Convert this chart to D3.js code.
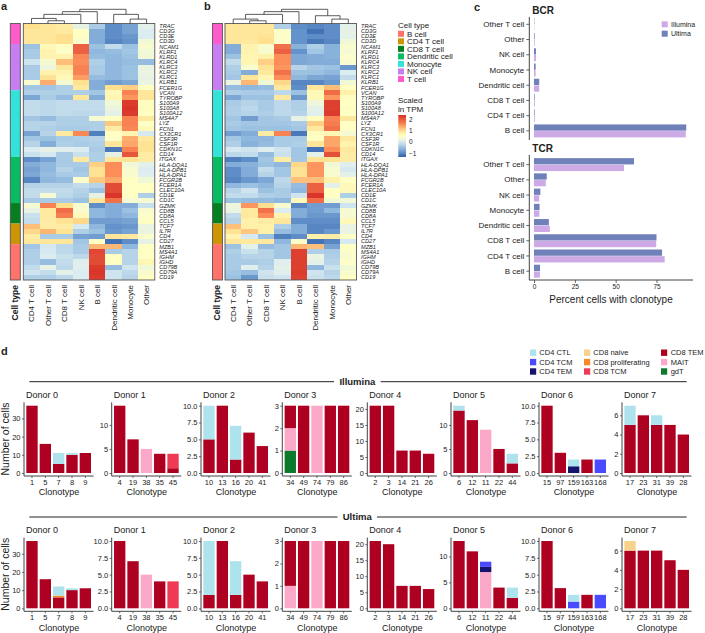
<!DOCTYPE html>
<html>
<head>
<meta charset="utf-8">
<script src="https://cdn.jsdelivr.net/npm/d3@7"></script>
<style>
  html, body { margin: 0; padding: 0; background: #fff; }
  svg text { font-family: "Liberation Sans", Arial, sans-serif; fill: #222; }
</style>
</head>
<body>
<div id="chart"></div>
<script>
// ---- heatmap data (panels a and b) ----
var genes = ["TRAC","CD3G","CD3E","CD3D","NCAM1","KLRF1","KLRD1","KLRC4","KLRC3","KLRC2","KLRC1","KLRB1","FCER1G",
  "VCAN","TYROBP","S100A9","S100A8","S100A12","MS4A7","LYZ","FCN1","CX3CR1","CSF3R","CSF1R","CDKN1C","CD14",
  "ITGAX","HLA-DQA1","HLA-DPB1","HLA-DPA1","FCGR2B","FCER1A","CLEC10A","CD1E","CD1C",
  "GZMK","CD8B","CD8A","CCL5","TCF7","IL7R","CD4","CD27","MZB1","MS4A1","IGHM","IGHD","CD79B","CD79A","CD19"];
var heatColumns = ["CD4 T cell","Other T cell","CD8 T cell","NK cell","B cell","Dendritic cell","Monocyte","Other"];
var rowGroups = ["T cell","NK cell","Monocyte","Dendritic cell","CD8 T cell","CD4 T cell","B cell"];
var rowGroupCounts = [4, 9, 13, 9, 4, 4, 7];
var legendGroups = ["B cell","CD4 T cell","CD8 T cell","Dendritic cell","Monocyte","NK cell","T cell"];

var heatA = [
[1.0,0.9,0.8,0.15,-0.4,-1.0,-0.8,0.1],
[0.9,0.9,0.85,0.5,-0.7,-1.0,-0.8,0.0],
[0.9,0.9,1.0,0.5,-0.7,-1.0,-0.9,0.0],
[0.9,0.9,1.0,0.4,-0.7,-1.05,-0.95,0.3],
[-0.5,0.6,0.5,1.9,-0.5,-0.2,-0.5,0.4],
[-0.4,0.7,0.45,1.9,-0.6,-0.55,-0.45,0.3],
[-0.4,0.7,0.7,1.55,-0.55,-0.6,-0.5,0.3],
[-0.1,0.35,1.2,1.5,-0.35,-0.6,-0.55,-0.55],
[-0.4,0.25,0.9,1.6,-0.4,-0.6,-0.5,0.2],
[-0.4,0.7,0.7,1.6,-0.4,-0.6,-0.5,0.2],
[-0.4,0.95,0.6,1.4,-0.55,-0.6,-0.5,0.15],
[0.4,1.3,0.35,1.0,-0.7,-0.85,-0.75,0.2],
[-0.45,-0.45,-0.35,0.85,-0.7,1.0,1.1,0.5],
[-0.35,-0.35,-0.35,-0.35,-0.45,0.6,1.6,0.9],
[-0.75,-0.4,-0.55,0.9,-0.7,0.65,1.45,0.9],
[-0.2,-0.25,-0.2,-0.2,-0.2,0.3,2.25,0.55],
[-0.2,-0.25,-0.2,-0.2,-0.2,0.2,2.3,0.55],
[-0.2,-0.25,-0.2,-0.25,-0.25,0.1,2.25,0.5],
[-0.45,-0.55,-0.35,-0.35,0.35,0.5,1.6,0.85],
[-0.3,-0.3,-0.35,-0.35,-0.35,1.15,1.6,0.5],
[-0.3,-0.35,-0.4,-0.4,-0.35,0.8,1.55,0.6],
[-0.8,-0.3,0.85,1.55,-1.1,0.5,0.7,-0.05],
[-0.45,-0.5,-0.4,-0.35,-0.3,0.45,1.3,0.85],
[-0.3,-0.7,-0.35,-0.4,-0.35,0.9,1.35,0.95],
[0.0,0.15,0.05,0.0,-0.4,-1.15,1.6,0.95],
[-0.15,-0.05,-0.4,-0.15,-0.35,0.15,2.0,0.8],
[-1.0,-0.8,-0.4,0.85,-0.35,0.9,0.95,0.8],
[-0.7,-0.6,-0.4,-0.4,1.1,1.5,0.3,0.1],
[-0.8,-0.6,-0.3,-0.45,0.95,1.5,0.4,0.0],
[-0.75,-0.55,-0.4,-0.4,0.95,1.5,0.4,0.05],
[-1.05,-0.6,-0.55,0.45,1.15,1.35,0.5,0.3],
[-0.3,-0.3,-0.3,-0.2,-0.3,2.1,0.5,0.5],
[-0.2,-0.2,-0.2,-0.3,-0.5,2.1,0.5,0.5],
[-0.2,0.35,-0.25,-0.35,0.15,2.3,0.5,-0.35],
[-0.4,-0.4,-0.4,-0.5,0.9,1.75,0.35,0.35],
[0.35,1.6,1.0,0.4,-1.0,-0.7,-0.7,-0.15],
[0.15,0.85,1.8,0.4,-0.6,-0.7,-0.5,0.4],
[-0.15,0.85,1.65,0.6,-0.6,-0.7,-0.6,0.45],
[-0.2,0.8,0.95,1.05,-0.85,-0.85,-0.8,0.5],
[1.2,0.8,0.8,-0.05,-0.6,-0.95,-0.9,0.2],
[1.05,1.25,0.95,-0.35,-0.5,-0.9,-0.8,0.2],
[0.8,-0.4,-0.4,-0.8,-0.85,0.9,0.85,0.45],
[0.9,0.9,0.9,-0.45,0.5,-1.2,-1.0,0.15],
[-0.45,-0.05,-0.25,-0.4,1.25,1.25,-0.6,0.5],
[-0.35,-0.05,-0.25,-0.4,2.15,-0.4,-0.3,0.5],
[-0.35,0.0,-0.15,-0.25,2.1,0.5,-0.3,0.5],
[-0.35,-0.55,-0.2,0.05,2.1,0.5,-0.3,0.65],
[-0.2,0.15,-0.25,0.05,2.25,-0.55,-0.1,0.3],
[-0.1,-0.2,0.1,0.0,2.3,-0.1,-0.25,0.4],
[-0.35,-0.35,-0.25,0.0,2.25,-0.1,-0.3,0.5]];

var heatB = [
[0.9,0.9,0.9,-0.35,-1.0,-1.05,-1.0,0.1],
[0.9,0.9,0.9,0.45,-0.95,-1.2,-1.0,0.15],
[0.9,0.9,0.95,0.45,-0.95,-1.0,-1.0,0.1],
[0.9,0.85,1.0,0.45,-0.95,-1.15,-1.05,0.3],
[-0.7,0.7,0.4,1.75,-0.65,-0.35,-0.65,0.4],
[-0.7,0.7,0.4,1.9,-0.95,-0.45,-0.65,0.35],
[-0.5,0.65,0.75,1.5,-0.75,-0.7,-0.65,0.45],
[-0.2,0.65,1.1,1.5,-0.75,-0.7,-0.7,0.4],
[-0.35,0.4,0.95,1.45,-0.3,-0.45,-0.5,-0.9],
[-0.4,-0.7,0.85,1.75,-0.5,-0.5,-0.6,0.0],
[-0.45,0.9,0.65,1.5,-0.6,-0.75,-0.8,-0.2],
[0.2,1.25,0.3,1.05,-1.05,-1.05,-0.9,0.3],
[-0.55,-0.6,-0.55,0.85,-1.0,0.9,1.2,0.5],
[-0.35,-0.4,-0.4,-0.25,-0.5,0.6,1.8,0.75],
[-0.75,-0.5,-0.5,0.85,-0.9,0.6,1.45,0.55],
[-0.4,-0.3,-0.4,-0.25,-0.35,0.25,2.2,0.5],
[-0.35,-0.25,-0.4,-0.25,-0.35,0.1,2.2,0.55],
[-0.35,-0.3,-0.35,-0.25,-0.3,0.05,2.25,0.5],
[-0.45,-0.85,-0.45,-0.4,0.15,0.55,1.6,0.9],
[-0.4,-0.45,-0.45,-0.45,-0.4,1.1,1.65,0.5],
[-0.45,-0.5,-0.5,-0.5,-0.45,0.85,1.75,0.5],
[-0.85,-0.7,0.8,1.6,-1.15,0.55,0.65,0.35],
[-0.45,-0.6,-0.6,-0.4,-0.4,0.5,1.35,0.85],
[-0.35,-0.65,-0.55,-0.4,-0.35,0.9,1.35,0.7],
[-0.05,-0.1,0.05,-0.1,-0.45,-1.2,1.5,0.85],
[-0.25,-0.2,-0.55,-0.15,-0.45,0.1,2.05,0.8],
[-1.1,-1.0,-0.45,0.8,-0.45,0.95,0.95,0.8],
[-0.7,-0.65,-0.5,-0.6,1.05,1.45,0.3,0.05],
[-1.0,-0.7,-0.2,-0.45,0.95,1.45,0.4,-0.05],
[-1.0,-0.7,-0.3,-0.45,0.95,1.45,0.4,0.1],
[-1.05,-0.9,-0.75,-0.25,1.2,1.2,0.75,0.5],
[-0.6,-0.5,-0.6,-0.3,-0.55,1.9,0.1,0.6],
[-0.3,-0.1,-0.5,-0.4,-0.6,1.9,0.5,0.6],
[-0.2,-0.2,-0.35,-0.4,-0.1,2.3,0.5,-0.35],
[-0.5,-0.55,-0.55,-0.6,0.6,1.8,0.3,0.3],
[0.25,1.45,1.0,0.4,-1.05,-0.85,-0.85,-0.1],
[0.2,0.85,1.75,0.0,-0.7,-0.85,-0.6,0.35],
[-0.2,0.85,1.5,0.7,-0.7,-0.9,-0.9,0.35],
[-0.3,0.75,0.8,0.9,-1.0,-1.0,-1.0,0.6],
[1.2,0.75,0.75,-0.35,-0.7,-1.05,-1.05,0.2],
[0.95,1.15,0.75,-0.55,-0.7,-1.05,-0.9,0.2],
[0.7,-0.05,-0.5,-1.1,-1.0,0.75,0.8,0.45],
[0.9,0.85,0.85,-0.6,0.45,-1.2,-1.05,-0.05],
[-0.5,0.1,-0.55,-0.45,1.25,1.2,-0.8,0.5],
[-0.35,-0.15,-0.3,-0.45,2.2,-0.35,-0.4,0.45],
[-0.4,-0.3,-0.3,-0.45,2.2,0.2,-0.35,0.4],
[-0.4,-0.4,-0.35,0.05,2.2,0.1,-0.3,0.45],
[-0.4,0.05,-0.3,0.1,2.2,-0.6,-0.15,0.3],
[-0.45,-0.55,-0.1,0.05,2.25,-0.1,-0.3,0.4],
[-0.5,-0.9,-0.15,-0.1,2.2,-0.15,-0.25,0.5]];

// dendrograms: [left, right, merge height], leaves are column indexes
var treeA = [[[[0,[1,2,8],15],3,27],4,35],[5,[6,7,13],27],42];
var treeB = [[[[0,[1,2,8],13],3,27],4,35],[5,[6,7,13],23],42];

// ---- panel c data ----
var clonoCats = ["Other T cell","Other","NK cell","Monocyte","Dendritic cell","CD8 T cell","CD4 T cell","B cell"];
var bcrUltima = [0.2,0.4,1.2,1.0,3.2,0.4,0.4,93.2];
var bcrIllumina = [0.2,0.4,1.2,1.0,3.2,0.5,0.5,92.9];
var tcrUltima = [61.2,7.8,3.9,3.4,9.1,75,78.4,3.7];
var tcrIllumina = [55.1,7.2,3.2,3.3,9.7,74.8,80,3.6];

// ---- panel d data ----
var CTL="CD4 CTL", TCM4="CD4 TCM", TEM4="CD4 TEM", NAIVE="CD8 naive", PROLIF="CD8 proliferating",
    TCM8="CD8 TCM", TEM8="CD8 TEM", MAIT="MAIT", GDT="gdT";
var cellStates = [CTL,TCM4,TEM4,NAIVE,PROLIF,TCM8,TEM8,MAIT,GDT];

var donorClonotypes = [
  [1,5,7,8,9],[4,19,38,35,45],[10,13,16,20,41],[34,49,74,79,86],
  [2,3,14,21,26],[6,12,11,22,44],[15,97,159,163,168],[17,23,31,39,28]];
var illuminaMax = [37,14,10,3,21,14,10,7];
var ultimaMax = [37,10,10,3,21,13,10,7];
var illuminaTicks = [[0,10,20,30],[0,5,10],[0,2.5,5,7.5,10],[0,1,2,3],[0,5,10,15,20],[0,5,10],[0,2.5,5,7.5,10],[0,2,4,6]];
var ultimaTicks = [[0,10,20,30],[0,2.5,5,7.5,10],[0,2.5,5,7.5,10],[0,1,2,3],[0,5,10,15,20],[0,5,10],[0,2.5,5,7.5,10],[0,2,4,6]];

var illuminaCounts = [
  [{[TEM8]:37},{[TEM8]:16},{[TEM8]:5,[CTL]:6},{[TEM8]:10,[CTL]:1},{[TEM8]:11}],
  [{[TEM8]:14},{[TEM8]:7},{[MAIT]:5},{[TEM8]:4},{[TEM8]:1,[TCM8]:3}],
  [{[TEM8]:5,[CTL]:5},{[TEM8]:10},{[TEM8]:2,[CTL]:5},{[TEM8]:6},{[TEM8]:4}],
  [{[GDT]:1,[MAIT]:1,[TEM8]:1},{[TEM8]:3},{[MAIT]:3},{[TEM8]:3},{[TEM8]:3}],
  [{[TEM8]:21},{[TEM8]:21},{[TEM8]:7},{[TEM8]:7},{[TEM8]:6}],
  [{[TEM8]:13,[CTL]:1},{[TEM8]:11},{[MAIT]:9},{[TEM8]:5},{[TEM8]:2,[CTL]:2}],
  [{[TEM8]:10},{[TEM8]:3},{[TEM4]:1,[CTL]:1},{[TEM8]:2},{[TCM4]:2}],
  [{[TEM8]:5,[CTL]:2},{[TEM8]:6},{[TEM8]:5,[CTL]:1},{[TEM8]:5},{[TEM8]:4}]];
var ultimaCounts = [
  [{[TEM8]:37},{[TEM8]:16},{[TEM8]:6,[PROLIF]:1,[CTL]:5},{[TEM8]:10,[CTL]:1},{[TEM8]:11}],
  [{[TEM8]:10},{[TEM8]:7},{[MAIT]:5},{[TEM8]:4},{[TCM8]:4}],
  [{[TEM8]:2,[CTL]:8},{[TEM8]:10},{[TEM8]:2,[CTL]:5},{[TEM8]:5},{[TEM8]:4}],
  [{[MAIT]:1,[TEM8]:2},{[TEM8]:3},{[MAIT]:3},{[TEM8]:3},{[TEM8]:3}],
  [{[TEM8]:21},{[TEM8]:20},{[TEM8]:7},{[TEM8]:7},{[TEM8]:6}],
  [{[TEM8]:13},{[TEM8]:11},{[MAIT]:7,[TEM4]:1,[TCM4]:1},{[TEM8]:4},{[TEM8]:2,[CTL]:2}],
  [{[TEM8]:10},{[TEM8]:3},{[TCM4]:1,[CTL]:1},{[TEM8]:2},{[TCM4]:2}],
  [{[TEM8]:6,[NAIVE]:1},{[TEM8]:6},{[TEM8]:6},{[TEM8]:5},{[TEM8]:4}]];

// ---- colours ----
var groupColor = d3.scaleOrdinal()
  .domain(legendGroups)
  .range(["#ff736b","#cc9506","#067f20","#09bb63","#33e3da","#c67ff0","#ff5ccb"]);
var stateColor = d3.scaleOrdinal()
  .domain(cellStates)
  .range(["#aee3ee","#4a4aff","#14146e","#f6d28a","#f58a2a","#ee3a55","#ae0020","#fca9c9","#0b7a2b"]);
// stops picked by eye from the colour bar
var heatColor = d3.scaleLinear()
  .domain([-1.35, -1, -0.5, 0, 0.5, 1, 1.5, 2.35])
  .range(["#2f5fa8","#5e8dc8","#9cc2e2","#dcedf2","#ffffc4","#fee08f","#fc8d59","#d73027"]);
var ultimaColor = "#7080b8", illuminaColor = "#cda9e6";
var axisColor = "#444";

var svg = d3.select("#chart").append("svg")
  .attr("width", 705)
  .attr("height", 633)
  .style("display", "block");

function label(x, y, text, size, opts) {
  opts = opts || {};
  return svg.append("text")
    .attr("x", x)
    .attr("y", y)
    .attr("dy", ".35em")
    .attr("font-size", size)
    .attr("font-weight", opts.bold ? "bold" : "normal")
    .attr("text-anchor", opts.anchor || "start")
    .text(text);
}

label(1, 6, "a", 11, {bold: true});
label(204, 6, "b", 11, {bold: true});
label(474, 7, "c", 11, {bold: true});
label(1, 351, "d", 11, {bold: true});

// ---- panels a, b ----
function drawHeatmap(matrix, tree, barLeft, left) {
  var top = 23.5, bottom = 280, right = left + 131.5;
  var x = d3.scaleBand().domain(heatColumns).range([left, right]);
  var y = d3.scaleBand().domain(genes).range([top, bottom]);
  var g = svg.append("g");

  // side colour bar
  var offset = 0;
  rowGroups.forEach(function(name, i) {
    var first = genes[offset];
    g.append("rect")
      .attr("x", barLeft)
      .attr("width", 10)
      .attr("y", y(first))
      .attr("height", y.bandwidth() * rowGroupCounts[i])
      .attr("fill", groupColor(name));
    offset += rowGroupCounts[i];
  });
  g.append("rect")
    .attr("x", barLeft).attr("y", top).attr("width", 10).attr("height", bottom - top)
    .attr("fill", "none").attr("stroke", "#555").attr("stroke-width", 0.9);

  // cells
  genes.forEach(function(gene, r) {
    g.selectAll(".c" + r)
      .data(matrix[r])
      .enter()
      .append("rect")
      .attr("x", function(d, i) { return x(heatColumns[i]); })
      .attr("y", y(gene))
      .attr("width", x.bandwidth())
      .attr("height", y.bandwidth())
      .attr("shape-rendering", "crispEdges")
      .attr("fill", function(d) { return heatColor(d); });
  });
  g.append("rect")
    .attr("x", left).attr("y", top).attr("width", right - left).attr("height", bottom - top)
    .attr("fill", "none").attr("stroke", "#555").attr("stroke-width", 0.9);

  // gene labels
  g.selectAll(".gene")
    .data(genes)
    .enter()
    .append("text")
    .attr("x", right + 4.5)
    .attr("y", function(d) { return y(d) + y.bandwidth() / 2; })
    .attr("dy", ".35em")
    .attr("font-size", 5.6)
    .attr("font-style", "italic")
    .text(function(d) { return d; });

  // column labels
  g.selectAll(".col")
    .data(heatColumns)
    .enter()
    .append("text")
    .attr("transform", function(d) { return "translate(" + (x(d) + x.bandwidth() / 2) + ",285) rotate(-90)"; })
    .attr("dy", ".35em")
    .attr("text-anchor", "end")
    .attr("font-size", 8)
    .text(function(d) { return d; });

  g.append("text")
    .attr("transform", "translate(" + (barLeft + 5) + ",285) rotate(-90)")
    .attr("dy", ".35em")
    .attr("text-anchor", "end")
    .attr("font-size", 8.5)
    .attr("font-weight", "bold")
    .text("Cell type");

  // dendrogram
  var h = d3.scaleLinear().domain([0, 42]).range([top, 9.3]);
  var path = d3.path();
  function walk(node) {
    if (typeof node === "number") return {x: x(heatColumns[node]) + x.bandwidth() / 2, y: h(0)};
    var a = walk(node[0]), b = walk(node[1]), yy = h(node[2]);
    path.moveTo(a.x, a.y);
    path.lineTo(a.x, yy);
    path.lineTo(b.x, yy);
    path.lineTo(b.x, b.y);
    return {x: (a.x + b.x) / 2, y: yy};
  }
  walk(tree);
  g.append("path")
    .attr("d", path.toString())
    .attr("fill", "none")
    .attr("stroke", "#333")
    .attr("stroke-width", 0.8);
}

drawHeatmap(heatA, treeA, 10.3, 23.3);
drawHeatmap(heatB, treeB, 212.5, 225);

// heatmap legends
label(398, 25.6, "Cell type", 8);
var legendY = d3.scaleBand().domain(legendGroups).range([30, 82.7]);
svg.selectAll(".legend-group")
  .data(legendGroups)
  .enter()
  .append("rect")
  .attr("x", 398)
  .attr("y", function(d) { return legendY(d) + 0.8; })
  .attr("width", 6)
  .attr("height", 6)
  .attr("fill", function(d) { return groupColor(d); });
svg.selectAll(".legend-group-text")
  .data(legendGroups)
  .enter()
  .append("text")
  .attr("x", 407)
  .attr("y", function(d) { return legendY(d) + legendY.bandwidth() / 2; })
  .attr("dy", ".35em")
  .attr("font-size", 8)
  .text(function(d) { return d; });

label(398, 100, "Scaled", 8);
label(398, 108.7, "ln TPM", 8);
var gradient = svg.append("defs").append("linearGradient")
  .attr("id", "heat-gradient")
  .attr("x1", 0).attr("y1", 1).attr("x2", 0).attr("y2", 0);
d3.range(0, 1.01, 0.1).forEach(function(t) {
  gradient.append("stop")
    .attr("offset", t)
    .attr("stop-color", heatColor(-1.35 + t * 3.7));
});
svg.append("rect")
  .attr("x", 398.3).attr("y", 115).attr("width", 7.7).attr("height", 42)
  .attr("fill", "url(#heat-gradient)");
var scaleY = d3.scaleLinear().domain([-1.35, 2.35]).range([157, 115]);
svg.append("g")
  .attr("transform", "translate(406,0)")
  .call(d3.axisRight(scaleY).tickValues([-1, 0, 1, 2]).tickSize(0).tickPadding(3).tickFormat(function(d) { return d < 0 ? "\u2212" + (-d) : d; }))
  .call(function(g) { g.select(".domain").remove(); })
  .selectAll("text").attr("font-size", 6.5).attr("font-family", null);

// ---- panel c ----
var pctX = d3.scaleLinear().domain([0, 75]).range([534, 656.5]);

function drawClonoPanel(title, titleY, ultima, illumina, bandTop, axisTop, axisBottom) {
  var y = d3.scaleBand().domain(clonoCats).range([bandTop, bandTop + 121.8]).paddingInner(0.15).paddingOuter(0.075);
  var inner = d3.scaleBand().domain(["Ultima", "Illumina"]).range([0, y.bandwidth()]).paddingInner(0.06);

  label(532.3, titleY, title, 10, {bold: true});

  var rows = [["Ultima", ultima, ultimaColor], ["Illumina", illumina, illuminaColor]];
  rows.forEach(function(row) {
    svg.selectAll(".bar" + title + row[0])
      .data(row[1])
      .enter()
      .append("rect")
      .attr("x", pctX(0))
      .attr("y", function(d, i) { return y(clonoCats[i]) + inner(row[0]); })
      .attr("width", function(d) { return pctX(d) - pctX(0); })
      .attr("height", inner.bandwidth())
      .attr("fill", row[2]);
  });

  svg.append("g")
    .attr("transform", "translate(529.3,0)")
    .call(d3.axisLeft(y).tickSize(3).tickPadding(2))
    .call(function(g) { g.select(".domain").remove(); g.selectAll("line").attr("stroke", axisColor).attr("stroke-width", 0.8); })
    .selectAll("text").attr("font-size", 8).attr("font-family", null);
  svg.append("line")
    .attr("x1", 529.3).attr("x2", 529.3).attr("y1", axisTop).attr("y2", axisBottom)
    .attr("stroke", axisColor).attr("stroke-width", 1);
}

drawClonoPanel("BCR", 10, bcrUltima, bcrIllumina, 16.7, 17, 140);
drawClonoPanel("TCR", 148.7, tcrUltima, tcrIllumina, 157, 155, 280);

svg.append("g")
  .attr("transform", "translate(0,280)")
  .call(d3.axisBottom(pctX).tickValues([0, 25, 50, 75]).tickSize(3).tickPadding(1.5))
  .call(function(g) { g.select(".domain").remove(); g.selectAll("line").attr("stroke", axisColor).attr("stroke-width", 0.8); })
  .selectAll("text").attr("font-size", 6.5).attr("font-family", null);
svg.append("line")
  .attr("x1", 529).attr("x2", 693).attr("y1", 280).attr("y2", 280)
  .attr("stroke", axisColor).attr("stroke-width", 1);
label(611, 299.7, "Percent cells with clonotype", 10, {anchor: "middle"});

[["Illumina", illuminaColor, 24.3], ["Ultima", ultimaColor, 33.7]].forEach(function(d) {
  svg.append("rect").attr("x", 661.7).attr("y", d[2] - 3).attr("width", 6).attr("height", 6).attr("fill", d[1]);
  label(671, d[2], d[0], 7);
});

// ---- panel d ----
var panelLefts = [24, 111.7, 201, 282.3, 367.3, 451, 539, 622];
// stacking runs bottom to top, reverse alphabetical like the original
var stackKeys = cellStates.slice().reverse();

function drawDonors(counts, maxes, ticks, shift) {
  donorClonotypes.forEach(function(clonotypes, d) {
    var left = panelLefts[d];
    var x = d3.scaleBand().domain(clonotypes).range([left + 1.33, left + 68]).paddingInner(0.15).paddingOuter(0.075);
    var y = d3.scaleLinear().domain([0, maxes[d]]).range([473 + shift, 405.7 + shift]);
    var rows = counts[d].map(function(c, i) {
      var row = {clonotype: clonotypes[i]};
      stackKeys.forEach(function(k) { row[k] = c[k] || 0; });
      return row;
    });
    var series = d3.stack().keys(stackKeys)(rows);
    var g = svg.append("g");

    g.selectAll(".layer")
      .data(series)
      .enter()
      .append("g")
      .attr("fill", function(s) { return stateColor(s.key); })
      .selectAll("rect")
      .data(function(s) { return s.filter(function(v) { return v[1] > v[0]; }); })
      .enter()
      .append("rect")
      .attr("x", function(v) { return x(v.data.clonotype); })
      .attr("y", function(v) { return y(v[1]); })
      .attr("width", x.bandwidth())
      .attr("height", function(v) { return y(v[0]) - y(v[1]); });

    g.append("g")
      .attr("transform", "translate(" + left + ",0)")
      .call(d3.axisLeft(y).tickValues(ticks[d]).tickSize(2).tickPadding(1.5)
        .tickFormat(ticks[d].indexOf(2.5) >= 0 ? d3.format(".1f") : d3.format("d")))
      .call(function(a) { a.select(".domain").remove(); a.selectAll("line").attr("stroke", axisColor).attr("stroke-width", 0.8); })
      .selectAll("text").attr("font-size", 7.5).attr("font-family", null);
    g.append("g")
      .attr("transform", "translate(0," + (476 + shift) + ")")
      .call(d3.axisBottom(x).tickSize(2).tickPadding(1.5))
      .call(function(a) { a.select(".domain").remove(); a.selectAll("line").attr("stroke", axisColor).attr("stroke-width", 0.8); })
      .selectAll("text").attr("font-size", 7.5).attr("font-family", null);

    g.append("line")
      .attr("x1", left).attr("x2", left).attr("y1", 402.3 + shift).attr("y2", 476 + shift)
      .attr("stroke", axisColor).attr("stroke-width", 1);
    g.append("line")
      .attr("x1", left).attr("x2", left + 69.5).attr("y1", 476 + shift).attr("y2", 476 + shift)
      .attr("stroke", axisColor).attr("stroke-width", 1);

    label(left + 2, 395 + shift, "Donor " + d, 9);
    label(left + 35, 492.3 + shift, "Clonotype", 9, {anchor: "middle"});
  });

  svg.append("text")
    .attr("transform", "translate(5.7," + (439 + shift) + ") rotate(-90)")
    .attr("dy", ".35em")
    .attr("text-anchor", "middle")
    .attr("font-size", 10.5)
    .text("Number of cells");
}

drawDonors(illuminaCounts, illuminaMax, illuminaTicks, 0);
drawDonors(ultimaCounts, ultimaMax, ultimaTicks, 135.3);

function sectionRule(name, y, leftEnd, rightStart) {
  [[29.3, leftEnd], [rightStart, 686.7]].forEach(function(p) {
    svg.append("line")
      .attr("x1", p[0]).attr("x2", p[1]).attr("y1", y).attr("y2", y)
      .attr("stroke", "#222").attr("stroke-width", 1);
  });
  label((leftEnd + rightStart) / 2, y, name, 9.5, {bold: true, anchor: "middle"});
}
sectionRule("Illumina", 381.7, 334, 380.7);
sectionRule("Ultima", 517, 337.5, 377);

// cell state legend
var stateColumns = [[530, 539.3], [584, 593.3], [661, 670.7]];
cellStates.forEach(function(state, i) {
  var col = stateColumns[Math.floor(i / 3)];
  var yy = 352.7 + (i % 3) * 9.4;
  svg.append("rect").attr("x", col[0]).attr("y", yy - 3.2).attr("width", 6.2).attr("height", 6.4).attr("fill", stateColor(state));
  label(col[1], yy, state, 7.5);
});
</script>
</body>
</html>
